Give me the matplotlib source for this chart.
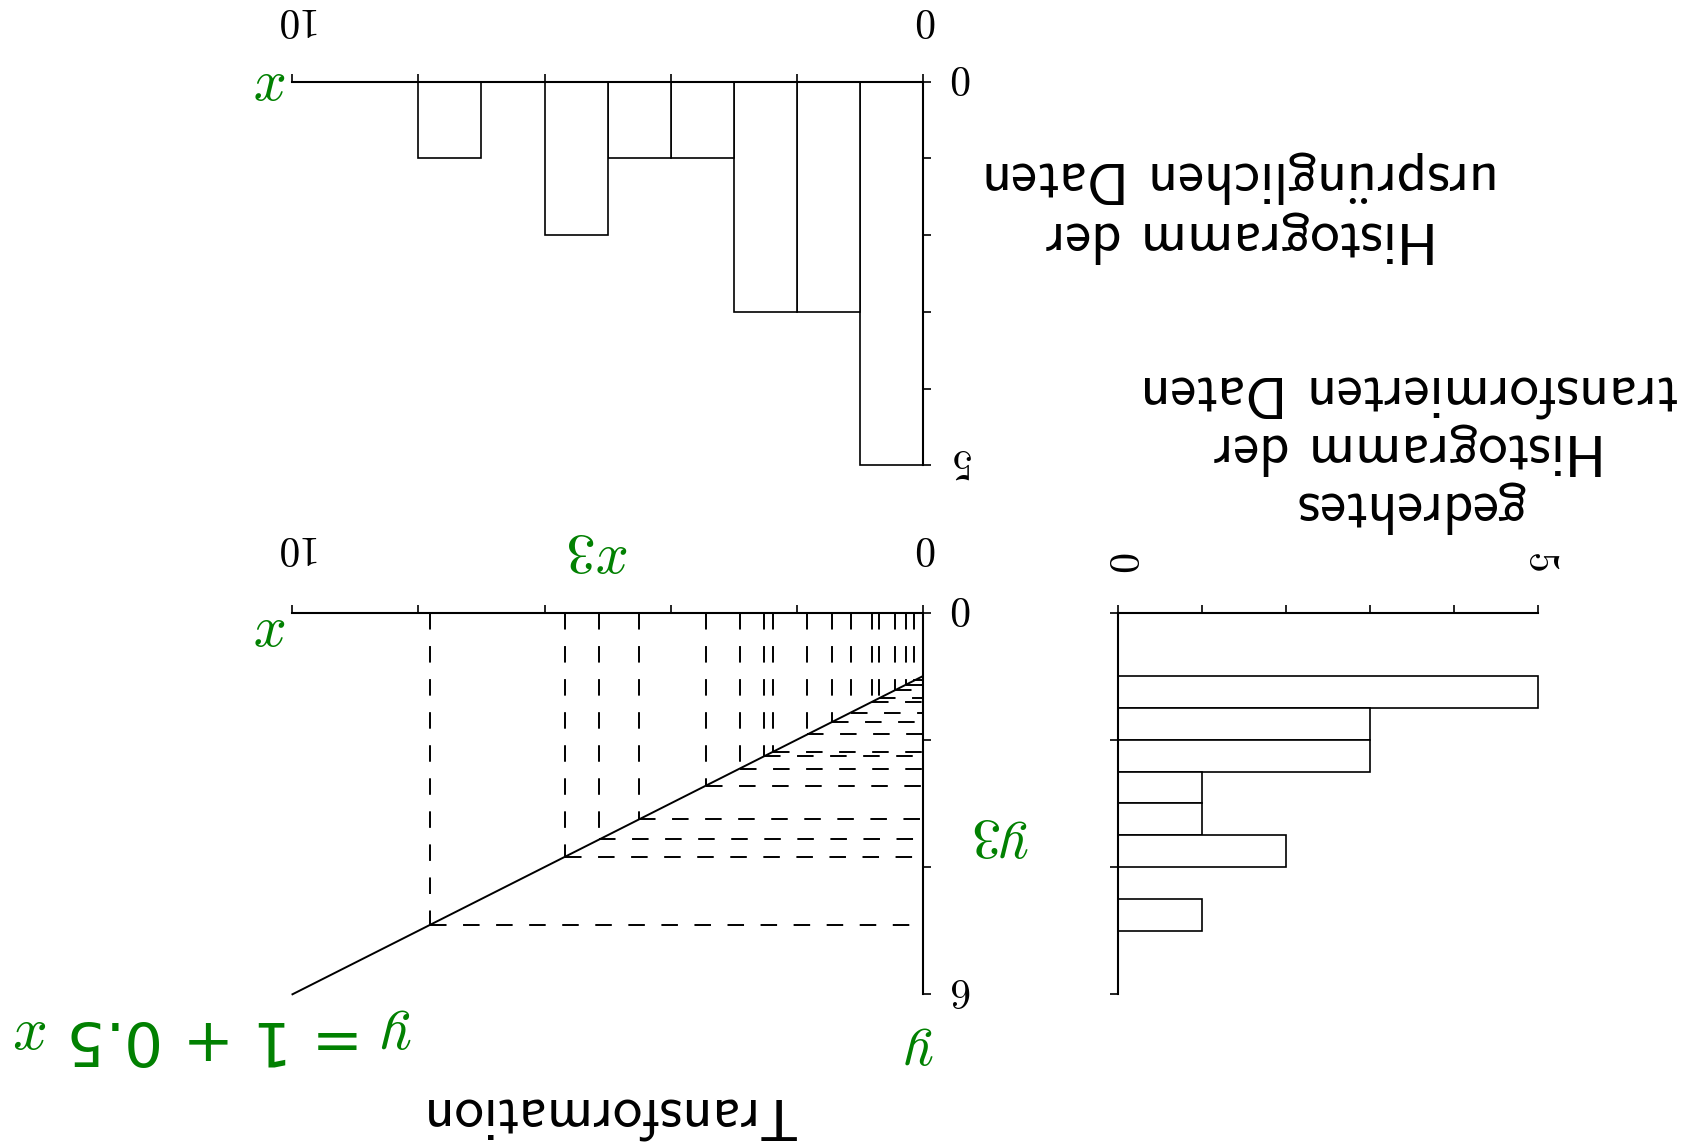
import numpy as np
import matplotlib
matplotlib.use('Agg')
import matplotlib.pyplot as plt
from matplotlib.transforms import ScaledTranslation

# math letters in Computer Modern italic, plain digits in DejaVu Sans
plt.rcParams['mathtext.fontset'] = 'custom'
plt.rcParams['mathtext.it'] = 'cmmi10'
plt.rcParams['mathtext.rm'] = 'DejaVu Sans'
plt.rcParams['mathtext.sf'] = 'cmss10'

# raw sample and the linear map y = intercept + slope * x
x_data = [0.13, 0.27, 0.43, 0.69, 0.81, 1.14, 1.44, 1.83,
          2.37, 2.51, 2.90, 3.44, 4.50, 5.13, 5.67, 7.82]
intercept = 1.0
slope = 0.5

x_bins = [0, 1, 2, 3, 4, 5, 6, 7, 8, 9, 10]
y_bins = [1.0, 1.5, 2.0, 2.5, 3.0, 3.5, 4.0, 4.5, 5.0, 5.5, 6.0]

x_ticks = [0, 2, 4, 6, 8, 10]
x_ticklabels = ['0', '', '', '', '', '10']
count_ticks = [0, 1, 2, 3, 4, 5]
count_ticklabels = ['0', '', '', '', '', '5']
y_ticks = [0, 2, 4, 6]
y_ticklabels = ['0', '', '', '6']

title_orig = 'Histogramm der\n' + r'urspr$\mathsf{\ddot{u}}$nglichen Daten'
title_rot = 'gedrehtes\nHistogramm der\ntransformierten Daten'
title_map = 'Transformation'
equation = '$y$ = 1 + 0.5 $x$'

GREEN = '#008000'
SANS = ['cmss10', 'DejaVu Sans']
TICKFONT = dict(fontfamily='cmr10', fontsize=30)


def box(l, t, r, b):
    # pixel box (on a 1568 x 1068 canvas) -> figure fraction rect
    return [l / 1568, 1 - b / 1068, (r - l) / 1568, (b - t) / 1068]


def style(ax, xside, yside):
    for s in ['top', 'bottom', 'left', 'right']:
        ax.spines[s].set_visible(s in (xside, yside))
        ax.spines[s].set_linewidth(1.5)
    ax.xaxis.set_ticks_position(xside)
    ax.yaxis.set_ticks_position(yside)
    ax.tick_params(direction='out', length=6, width=1.2)
    ax.patch.set_visible(False)


def lift_ylabels(ax):
    # upside-down digits sit a little low; nudge them onto their ticks
    shift = ScaledTranslation(0, 0.06, ax.figure.dpi_scale_trans)
    for t in ax.yaxis.get_major_ticks():
        t.label2.set_transform(t.label2.get_transform() + shift)


x_arr = np.array(x_data)
y_arr = intercept + slope * x_arr

fig = plt.figure(figsize=(16.86, 11.48), dpi=100)

# --- histogram of the raw data (upside down) ---
ax1 = fig.add_axes(box(272, 76, 858, 433))
_, _, bars = ax1.hist(x_arr, bins=x_bins, facecolor='white', edgecolor='black', linewidth=1.2)
for p in bars:
    p.set_clip_on(False)
ax1.set_xlim(10, 0)
ax1.set_ylim(5, 0)
style(ax1, 'top', 'right')
ax1.set_xticks(x_ticks, x_ticklabels, rotation=180, **TICKFONT)
ax1.set_yticks(count_ticks, count_ticklabels, rotation=180, va='center', **TICKFONT)
ax1.tick_params(axis='x', pad=26)
ax1.tick_params(axis='y', pad=12)
lift_ylabels(ax1)

# --- transformation panel ---
ax2 = fig.add_axes(box(272, 570, 858, 925))
x_line = np.array([x_bins[0], x_bins[-1]])
ax2.plot(x_line, intercept + slope * x_line, color='black', lw=1.4, clip_on=False)
for xi, yi in zip(x_arr, y_arr):
    ax2.plot([xi, xi], [0, yi], color='black', lw=1.4, linestyle=(0, (8.5, 8.5)))
    ax2.plot([xi, 0], [yi, yi], color='black', lw=1.4, linestyle=(0, (8.5, 8.5)))
ax2.set_xlim(10, 0)
ax2.set_ylim(6, 0)
style(ax2, 'top', 'right')
ax2.set_xticks(x_ticks, x_ticklabels, rotation=180, **TICKFONT)
ax2.set_yticks(y_ticks, y_ticklabels, rotation=180, va='center', **TICKFONT)
ax2.tick_params(axis='x', pad=28)
ax2.tick_params(axis='y', pad=12)
lift_ylabels(ax2)

# --- rotated histogram of the transformed data ---
ax3 = fig.add_axes(box(1040, 570, 1430, 925))
_, _, bars = ax3.hist(y_arr, bins=y_bins, orientation='horizontal',
                      facecolor='white', edgecolor='black', linewidth=1.2)
for p in bars:
    p.set_clip_on(False)
ax3.set_xlim(0, 5)
ax3.set_ylim(6, 0)
style(ax3, 'top', 'left')
ax3.set_xticks(count_ticks, count_ticklabels, rotation=270, **TICKFONT)
ax3.set_yticks(y_ticks, [''] * len(y_ticks))
ax3.tick_params(axis='x', pad=22)

# --- captions ---
fig.text(1155 / 1568, 1 - 192 / 1068, title_orig, rotation=180, ha='center', va='center',
         fontsize=42, family=SANS, math_fontfamily='cm', linespacing=1.15)
fig.text(1311 / 1568, 1 - 418 / 1068, title_rot, rotation=180, ha='center', va='center',
         fontsize=42, family=SANS, linespacing=1.15)
fig.text(565 / 1568, 1 - 1035 / 1068, title_map, rotation=180, ha='center', va='center',
         fontsize=42, family=SANS)
fig.text(198 / 1568, 1 - 965 / 1068, equation, rotation=180, ha='center', va='center',
         fontsize=44, color=GREEN, family='DejaVu Sans')

# green axis names
for lx, ly, s in [(248, 82, 'x'), (248, 590, 'x'), (552, 520, 'x3'),
                  (928, 785, 'y3'), (853, 980, 'y')]:
    fig.text(lx / 1568, 1 - ly / 1068, s, rotation=180, ha='center', va='center',
             fontsize=42, color=GREEN, family='cmmi10')

fig.savefig('out.png', dpi=100)
